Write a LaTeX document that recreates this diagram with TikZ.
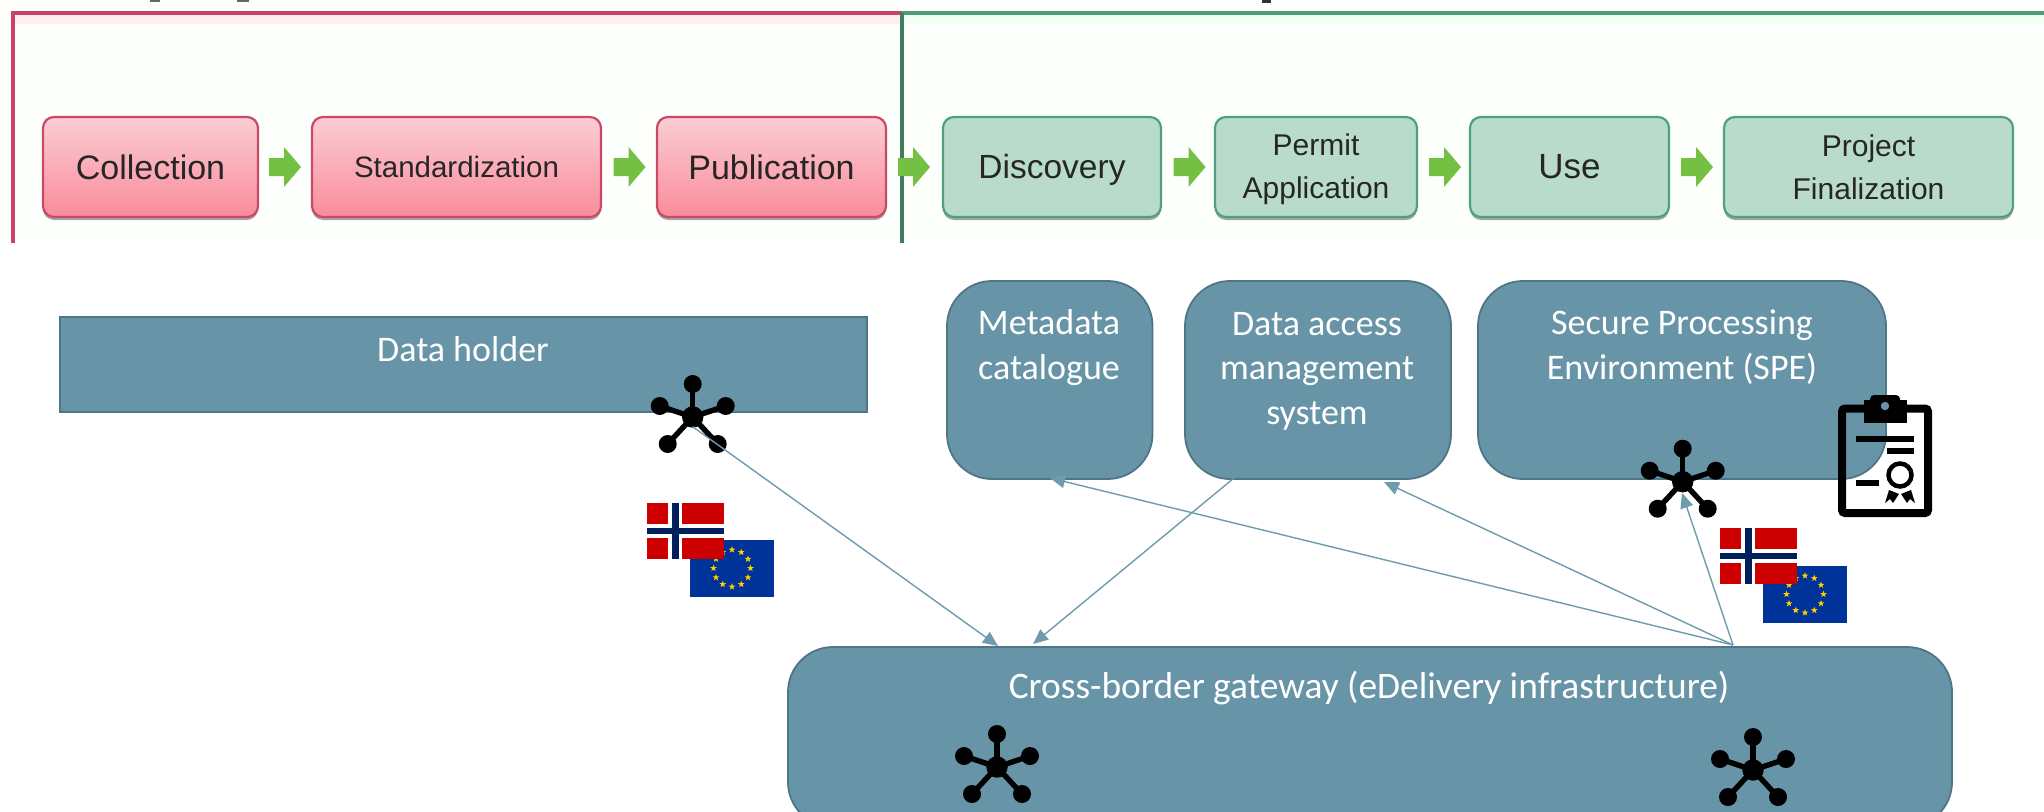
\documentclass[tikz,border=0pt]{standalone}
\usepackage{fontspec}
\setmainfont{Carlito}
\newfontfamily\arialf{Liberation Sans}
\usetikzlibrary{arrows.meta,shadows,shapes.geometric}
\definecolor{boxfill}{HTML}{6795A7}
\definecolor{boxline}{HTML}{4E7687}
\definecolor{conn}{HTML}{6E9BAD}
\definecolor{redframe}{HTML}{C9426A}
\definecolor{greenframe}{HTML}{4E9E78}
\definecolor{pinktop}{HTML}{FBCDD4}
\definecolor{pinkbot}{HTML}{F98C9B}
\definecolor{pinkline}{HTML}{C84A66}
\definecolor{greenfill}{HTML}{B9DBCC}
\definecolor{greenline}{HTML}{4FA07C}
\definecolor{arrowg}{HTML}{74C043}
\definecolor{norred}{HTML}{CC0000}
\definecolor{nornavy}{HTML}{00205B}
\definecolor{eublue}{HTML}{003399}
\definecolor{eustar}{HTML}{FFCC00}
\tikzset{
  x=1pt,y=-1pt,
  procbox/.style={rounded corners=11pt,line width=2.2pt,inner sep=0pt,
     drop shadow={shadow xshift=0pt,shadow yshift=-3pt,fill=black,opacity=.35},
     text=black!85,align=center},
  pinkbox/.style={procbox,draw=pinkline,top color=pinktop,bottom color=pinkbot},
  greenbox/.style={procbox,draw=greenline,fill=greenfill},
  lowbox/.style={draw=boxline,fill=boxfill,line width=1.8pt,inner sep=0pt},
  lowtxt/.style={text=white,align=center,inner sep=0pt,font=\fontsize{36}{44.5}\selectfont},
  link/.style={draw=conn,line width=1.4pt,-{Triangle[length=15pt,width=13pt,fill=conn]}},
  flow/.style={fill=arrowg,draw=none},
  neticon/.pic={
    \fill[black] (0,0) circle (10.7);
    \foreach \a/\b in {0/-33,33/-11,-33/-11,25/27,-25/27}{
      \draw[black,line width=5.4pt] (0,0) -- (\a,\b);
      \fill[black] (\a,\b) circle (9);
    }
  },
  flowarrow/.pic={
    \fill[flow] (-16,-9) -- (-1,-9) -- (-1,-20) -- (16,0) -- (-1,20) -- (-1,9) -- (-16,9) -- cycle;
  },
  norflag/.pic={
    \fill[norred] (0,0) rectangle (77,56);
    \fill[white] (21,0) rectangle (35,56);
    \fill[white] (0,21) rectangle (77,35);
    \fill[nornavy] (24.7,0) rectangle (31.7,56);
    \fill[nornavy] (0,24.7) rectangle (77,31.3);
  },
  euflag/.pic={
    \fill[eublue] (0,0) rectangle (84,56.5);
    \foreach \k in {0,30,...,330}{
      \node[star,star points=5,star point ratio=2.4,fill=eustar,inner sep=0pt,minimum size=7pt] at ({42+18.5*sin(\k)},{28.2-18.5*cos(\k)}) {};
    }
  }
}
\begin{document}
\begin{tikzpicture}
\clip (0,0) rectangle (2044,811);
\fill[white] (0,0) rectangle (2044,811);
\fill[white!99!green] (0,0) rectangle (2044,243);
% descender fragments of cropped title
\fill[black!60] (150,0) rectangle (160,2);
\fill[black!60] (237,0) rectangle (249,2);
\fill[black!80] (1262,0) rectangle (1271,3);
% frames
\fill[red!6] (13,13) rectangle (902,24);
\fill[green!5] (902,13) rectangle (2044,24);
\draw[greenframe,line width=4.5pt] (902,13) -- (2044,13);
\draw[redframe,line width=4.5pt] (13,243) -- (13,13) -- (902,13);
\draw[greenframe!80!black,line width=4.5pt] (902,13) -- (902,243);
% process boxes
\node[pinkbox,minimum width=215pt,minimum height=100pt,font=\arialf\fontsize{34}{40}\selectfont] (coll) at (150.5,167) {Collection};
\node[pinkbox,minimum width=289pt,minimum height=100pt,font=\arialf\fontsize{29.5}{40}\selectfont] (std) at (456.5,167) {Standardization};
\node[pinkbox,minimum width=229pt,minimum height=100pt,font=\arialf\fontsize{34}{40}\selectfont] (pub) at (771.5,167) {Publication};
\node[greenbox,minimum width=218pt,minimum height=100pt,text height=22pt,text depth=0pt,font=\arialf\fontsize{33.5}{40}\selectfont] (disc) at (1052,167) {Discovery};
\node[greenbox,minimum width=202pt,minimum height=100pt,font=\arialf\fontsize{30}{43}\selectfont] (perm) at (1316,167) {\rule{0pt}{27pt}Permit\\Application};
\node[greenbox,minimum width=199pt,minimum height=100pt,font=\arialf\fontsize{35}{40}\selectfont] (use) at (1569.5,167) {Use};
\node[greenbox,minimum width=289pt,minimum height=100pt,font=\arialf\fontsize{30}{43}\selectfont] (proj) at (1868.5,167) {Project\\Finalization};
% green arrows
\pic at (285,167) {flowarrow};
\pic at (629.5,167) {flowarrow};
\pic at (914,167) {flowarrow};
\pic at (1189.5,167) {flowarrow};
\pic at (1445,167) {flowarrow};
\pic at (1697,167) {flowarrow};
% lower boxes
\node[lowbox,minimum width=807pt,minimum height=95pt] (dh) at (463.5,364.5) {};
\node[lowbox,rounded corners=45pt,minimum width=205.5pt,minimum height=198pt] (md) at (1049.75,380) {};
\node[lowbox,rounded corners=45pt,minimum width=266pt,minimum height=198pt] (dam) at (1318,380) {};
\node[lowbox,rounded corners=45pt,minimum width=408pt,minimum height=198pt] (spe) at (1682,380) {};
\node[lowbox,rounded corners=45pt,minimum width=1164pt,minimum height=180pt] (gw) at (1370,737) {};
\node[lowtxt,anchor=base] (dht) at (463,361) {Data holder};
\node[lowtxt,anchor=base] (mdt) at (1049,379) {Metadata\\[0pt]catalogue};
\node[lowtxt,anchor=base] (damt) at (1317,424) {Data access\\management\\system};
\node[lowtxt,anchor=base] (spet) at (1682,379) {Secure Processing\\Environment (SPE)};
\node[lowtxt,anchor=base,font=\fontsize{37.4}{44.5}\selectfont] (gwt) at (1369,698) {Cross-border gateway (eDelivery infrastructure)};
% icons
\pic at (692.7,417) {neticon};
\pic at (1682.7,481.7) {neticon};
\pic at (997,767) {neticon};
\pic at (1753,770) {neticon};
% clipboard icon
\draw[black,line width=8pt,rounded corners=3pt] (1842,408.5) rectangle (1928,513);
\fill[black,rounded corners=4pt] (1870,395) rectangle (1900,420);
\fill[black] (1863.5,400) rectangle (1906.5,423);
\fill[boxfill] (1885,406) circle (4.2);
\fill[black] (1856,435.5) rectangle (1914,441.5);
\fill[black] (1886.5,447.5) rectangle (1914,453.5);
\fill[black] (1856,480) rectangle (1879,486);
\draw[black,line width=4.5pt] (1900,475) circle (11.5);
\fill[black] (1889,490) -- (1899,494) -- (1893,503) -- (1890,499) -- (1885,503) -- cycle;
\fill[black] (1911,490) -- (1901,494) -- (1907,503) -- (1910,499) -- (1915,503) -- cycle;
% flags
\pic at (690,540) {euflag};
\pic at (647,503) {norflag};
\pic at (1763,566) {euflag};
\pic at (1720,528) {norflag};
% connectors
\coordinate (dhport) at (692.7,426.7);
\coordinate (gwin) at (998,646);
\coordinate (gwin2) at (1033,644);
\coordinate (damout) at (1234,478);
\coordinate (gwout) at (1733,645);
\coordinate (mdin) at (1050,478);
\coordinate (damin) at (1384,482);
\coordinate (spein) at (1682,493);
\draw[link] (dhport) -- (gwin);
\draw[link] (damout) -- (gwin2);
\draw[link] (gwout) -- (mdin);
\draw[link] (gwout) -- (damin);
\draw[link] (gwout) -- (spein);
\end{tikzpicture}
\end{document}
